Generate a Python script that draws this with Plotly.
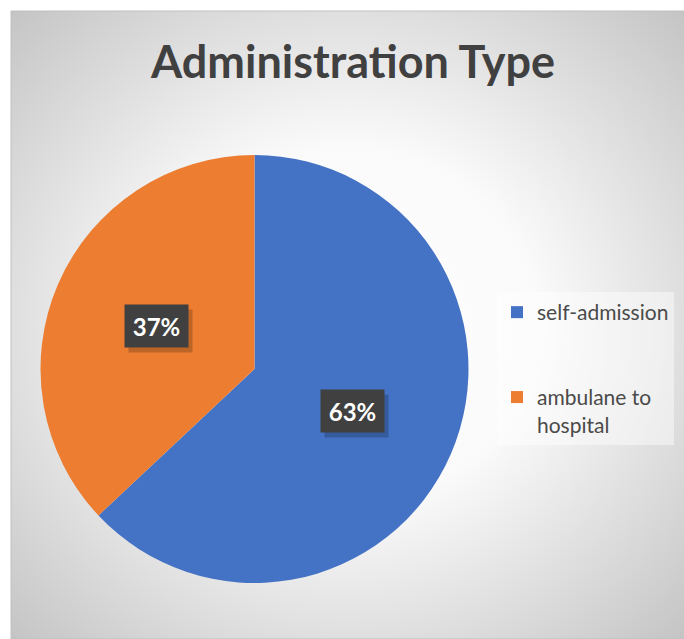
import math
import base64
import plotly.graph_objects as go

# ---- data ----
categories = ["self-admission", "ambulane to hospital"]
legend_labels = ["self-admission<br> <br> ", "ambulane to<br>hospital"]
values = [63, 37]
colors = ["#4472C4", "#ED7D31"]
title_text = "Administration Type"

# ---- layout geometry ----
W, H = 684, 639
ML, MT, MR, MB = 11, 11, 0, 0
PW, PH = W - ML - MR, H - MT - MB
dom_x = [0.0438, 0.6798]
dom_y = [0.0892, 0.7707]

total = sum(values)
pcts = [v / total for v in values]

# gradient background as svg
svg = (
    f"<svg xmlns='http://www.w3.org/2000/svg' width='{PW}' height='{PH}'>"
    "<defs><radialGradient id='g' cx='0.5' cy='0.5' r='0.71'>"
    "<stop offset='0' stop-color='#ffffff'/>"
    "<stop offset='0.4' stop-color='#fafafa'/>"
    "<stop offset='1' stop-color='#c4c4c4'/>"
    "</radialGradient></defs>"
    f"<rect width='{PW}' height='{PH}' fill='url(#g)'/></svg>"
)
svg_uri = "data:image/svg+xml;base64," + base64.b64encode(svg.encode()).decode()

fig = go.Figure(
    go.Pie(
        labels=legend_labels,
        values=values,
        sort=False,
        direction="clockwise",
        rotation=0,
        marker=dict(colors=colors, line=dict(width=0)),
        textinfo="none",
        hoverinfo="label+percent",
        domain=dict(x=dom_x, y=dom_y),
    )
)

# label positions from data (half radius along slice bisector)
R = min(PW * (dom_x[1] - dom_x[0]), PH * (dom_y[1] - dom_y[0])) / 2
cx = (dom_x[0] + dom_x[1]) / 2
cy = (dom_y[0] + dom_y[1]) / 2
annotations = []
cum = 0.0
for p in pcts:
    mid = (cum + p / 2) * 2 * math.pi
    cum += p
    ax = cx + 0.5 * R * math.sin(mid) / PW
    ay = cy + 0.5 * R * math.cos(mid) / PH
    # shadow
    annotations.append(dict(
        x=ax, y=ay, xref="paper", yref="paper", text=" ", showarrow=False,
        width=63, height=42, borderpad=0, bgcolor="rgba(0,0,0,0.2)",
        xshift=4, yshift=-5, xanchor="center", yanchor="middle",
    ))
    annotations.append(dict(
        x=ax, y=ay, xref="paper", yref="paper",
        text=f"<b>{round(p*100)}%</b>", showarrow=False,
        width=63, height=42, borderpad=0, bgcolor="#404040",
        font=dict(family="Lato", size=24, color="white"),
        xanchor="center", yanchor="middle",
    ))

fig.update_layout(
    width=W, height=H,
    margin=dict(l=ML, r=MR, t=MT, b=MB, pad=0),
    paper_bgcolor="white",
    plot_bgcolor="rgba(0,0,0,0)",
    title=dict(
        text=f"<b>{title_text}</b>",
        x=353 / W, y=1 - 62 / H, xref="container", yref="container",
        xanchor="center", yanchor="middle",
        font=dict(family="Lato", size=45, color="#404040"),
    ),
    images=[dict(
        source=svg_uri, xref="paper", yref="paper", x=0, y=1,
        sizex=1, sizey=1, sizing="stretch", layer="below",
        xanchor="left", yanchor="top",
    )],
    shapes=[dict(
        type="rect", xref="paper", yref="paper", x0=0, y0=0, x1=1.01, y1=1,
        line=dict(color="#c0c0c0", width=1), layer="below",
    )],
    legend=dict(
        x=(497 - ML) / PW, y=(H - 292) / PH, xanchor="left", yanchor="top",
        bgcolor="rgba(255,255,255,0.45)", borderwidth=0,
        font=dict(family="Lato", size=21, color="#4a4a4a"),
        valign="top", traceorder="normal",
    ),
    annotations=annotations,
    showlegend=True,
)

fig.write_html("out.html")
